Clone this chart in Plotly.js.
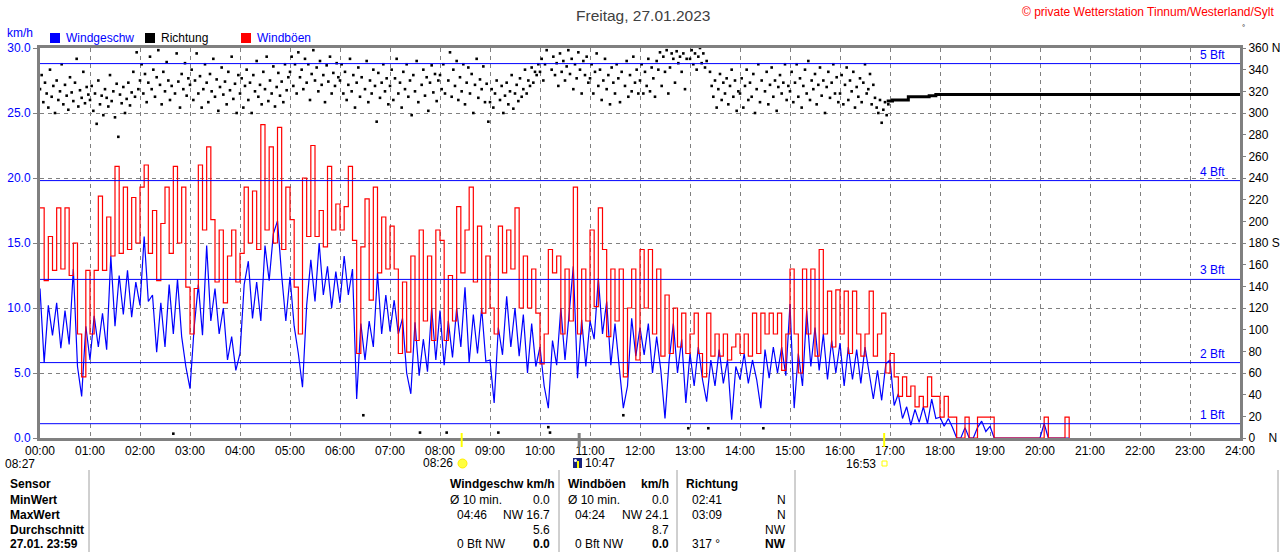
<!DOCTYPE html>
<html><head><meta charset="utf-8">
<script src="https://cdn.plot.ly/plotly-3.0.1.min.js"></script>
<style>html,body{margin:0;padding:0;background:#fff;overflow:hidden}#chart{width:1280px;height:552px}</style>
</head><body><div id="chart"></div>
<script>
// ---- data ----
const speedStepMin = 5;
const windSpeed = [
11.5,5.8,10.2,7.9,10.4,6.9,9.8,7.2,13.0,5.5,3.2,8.6,
6.0,9.4,7.0,9.6,6.8,14.0,8.6,12.5,9.5,12.9,9.3,12.0,
10.2,15.5,10.5,11.0,6.6,10.4,7.0,11.8,8.0,12.2,7.8,5.5,
3.8,8.5,11.8,7.9,14.8,9.0,11.5,8.0,10.0,6.0,7.8,5.2,
6.5,11.8,13.6,9.2,12.0,9.0,14.8,12.1,15.7,16.7,12.5,9.0,
12.4,8.6,6.5,3.9,10.2,13.7,10.5,15.0,11.0,13.2,10.0,12.8,
10.4,14.0,11.0,13.0,3.0,8.8,6.0,9.0,7.0,12.7,8.0,11.0,
8.2,10.6,8.0,9.2,5.0,3.4,8.9,4.8,7.6,5.1,10.0,6.0,
9.8,5.6,9.0,6.2,10.0,7.0,11.6,5.8,9.5,6.5,10.0,5.9,
6.0,2.7,8.5,6.4,10.9,7.0,10.0,6.3,9.5,5.0,8.8,5.5,
7.0,4.0,2.3,7.5,5.6,10.0,6.0,9.5,13.2,4.6,9.1,5.5,
9.0,7.6,12.3,8.0,10.5,5.6,8.8,5.5,2.3,4.0,9.2,6.3,
8.5,6.4,8.8,5.0,7.8,5.2,1.5,6.0,8.8,5.0,7.6,2.7,
6.5,4.0,7.0,4.5,2.8,6.0,4.0,6.8,4.2,6.0,1.4,5.5,
4.5,6.5,4.2,6.0,4.5,2.3,6.8,4.6,7.0,5.0,7.0,4.8,
10.3,2.3,6.5,4.0,9.8,5.5,8.5,5.2,8.0,4.5,7.5,5.0,
7.3,4.0,7.0,4.5,6.8,4.2,7.0,5.0,3.0,5.2,2.9,5.7,
6.0,2.5,3.4,1.5,2.4,1.0,2.2,1.2,2.4,1.1,3.0,1.5,
1.6,0.9,1.5,0.8,0,0,0.8,0,0,0.8,1.3,0.5,
0.9,0,0,0,0,0,0,0,0,0,0,0,
0,1.1,0,0,0,0,0,0
];
const windGust = [
17.7,12.1,15.5,12.9,17.7,13.0,17.7,12.5,15.0,8.0,4.7,12.9,
8.0,12.9,18.6,12.9,17.0,14.0,20.9,14.2,19.3,14.5,18.5,15.0,
19.3,21.0,14.2,17.5,12.1,16.5,19.3,14.2,20.9,15.0,19.3,11.6,
8.0,11.5,21.0,16.0,22.4,16.8,12.0,16.0,10.4,14.0,16.0,12.0,
14.2,19.3,15.0,19.0,14.5,24.1,16.0,22.4,15.0,23.9,14.5,19.3,
16.8,11.6,8.0,20.0,15.5,22.5,15.5,17.5,14.7,20.9,16.0,18.0,
16.0,17.8,20.9,15.2,6.5,14.7,18.4,10.6,19.3,12.7,17.0,13.0,
16.3,13.0,6.5,12.0,6.6,14.0,7.5,16.0,9.0,14.0,7.5,16.0,
15.2,7.5,12.5,9.0,17.8,12.7,16.0,19.3,12.0,16.3,9.6,14.0,
10.0,8.0,16.3,12.7,16.0,13.0,17.7,10.0,14.0,10.0,13.0,9.6,
5.7,8.0,14.5,12.7,14.0,8.0,13.0,9.0,19.3,8.0,13.0,9.0,
16.0,10.1,17.7,14.5,7.8,13.0,9.0,13.0,4.7,10.0,13.0,6.0,
14.5,10.0,14.5,8.0,13.0,6.3,11.0,6.5,10.0,7.0,9.6,6.5,
8.0,9.6,6.5,4.7,9.6,6.3,8.0,6.3,8.0,6.0,7.0,8.0,
6.5,8.0,6.3,9.6,6.5,9.6,8.0,9.6,8.0,9.6,5.2,8.0,
13.0,8.0,5.0,13.0,8.0,13.0,6.3,14.5,8.0,11.3,7.0,11.4,
8.0,11.3,6.5,11.3,8.0,6.3,8.0,11.3,6.3,8.0,9.6,5.0,
6.5,4.7,3.2,4.7,3.2,4.0,2.4,3.2,2.4,4.7,3.2,3.2,
1.6,3.2,1.6,1.6,0,0,1.6,0,0,1.6,1.6,1.6,
1.6,0,0,0,0,0,0,0,0,0,0,0,
0,1.6,0,0,0,0,1.6,0
];
const dirStepMin = 2;
const windDir = [
322,335,310,328,318,305,340,315,325,300,330,312,320,345,308,326,316,303,333,319,311,328,350,306,321,314,338,309,324,317,
312,325,302,318,290,330,308,316,298,322,314,306,335,311,320,296,327,278,317,309,324,300,313,328,307,319,338,315,356,322,
330,345,318,336,310,328,352,322,340,315,333,358,326,308,338,320,347,330,312,325,4,318,355,329,305,336,322,346,316,332,
326,340,312,330,355,318,334,305,322,345,328,310,336,320,350,315,331,302,324,342,317,329,308,338,321,352,313,327,300,335,
318,332,305,325,340,312,328,300,335,320,348,315,326,308,338,322,352,311,330,318,343,306,324,337,316,329,310,345,321,333,
338,352,325,345,318,356,333,340,322,350,328,345,312,336,358,330,342,320,348,326,335,310,344,329,352,318,337,325,346,333,
330,345,318,338,312,326,350,320,335,305,328,342,315,333,21,322,348,310,330,318,340,325,292,337,314,328,345,320,332,308,
325,340,312,332,350,318,328,305,338,322,345,315,330,298,335,320,348,310,5,326,340,316,333,302,328,344,319,336,311,330,
335,322,345,318,5,330,356,315,340,325,348,312,333,320,345,308,328,342,318,336,300,326,350,314,331,322,343,310,327,292,
310,322,305,318,330,5,312,325,300,316,328,308,320,335,304,318,326,311,332,315,322,340,318,330,325,342,328,338,335,345,
338,350,330,345,358,10,5,340,352,335,346,325,355,338,348,330,343,358,336,350,322,345,332,356,340,318,348,335,352,328,
332,345,318,338,355,325,340,312,330,350,322,335,308,342,328,318,345,332,310,338,21,325,348,315,335,320,352,328,340,318,
330,345,318,338,325,350,320,342,332,315,348,340,356,325,352,338,358,318,342,355,350,328,357,346,352,338,355,322,350,9,
350,358,345,355,340,352,360,346,355,342,348,9,338,325,315,330,305,322,336,312,328,318,332,308,325,340,315,330,302,320,
318,332,305,325,340,312,328,315,336,300,322,345,310,330,9,320,338,308,326,342,315,330,302,324,335,318,328,345,312,325,
320,338,310,328,345,315,332,305,325,340,318,348,312,330,322,336,308,326,342,316,330,300,324,338,314,328,345,318,333,310,
318,335,308,326,342,312,330,320,338,305,324,315,332,310,328,345,318,322,336,308,326,314,305,300,312,291,303,310,298,308
];
const dirLineTimes = ["16:56","17:03","17:22","17:47","17:55","24:00"];
const dirLineValues = [311,312,315,316,317,317];

const hourLabels = ["00:00","01:00","02:00","03:00","04:00","05:00","06:00","07:00","08:00","09:00","10:00","11:00","12:00",
  "13:00","14:00","15:00","16:00","17:00","18:00","19:00","20:00","21:00","22:00","23:00","24:00"];
const speedTicks = [0,5,10,15,20,25,30];
const dirTickVals = [0,20,40,60,80,100,120,140,160,180,200,220,240,260,280,300,320,340,360];
const dirTickText = ["0\u00a0\u00a0\u00a0\u00a0N","20","40","60","80","100","120","140","160","180 S","200","220","240","260","280","300","320","340","360 N"];
const bftLevels = [1.1,5.8,12.2,19.8,28.8];
const bftLabels = ["1 Bft","2 Bft","3 Bft","4 Bft","5 Bft"];
const legendNames = ["Windgeschw","Richtung","Windböen"];
const sunrise = "08:26", sunset = "16:53", moonEvent = "10:47", nextSunrise = "08:27";
const titleText = "Freitag, 27.01.2023";
const copyrightText = "\u00a9 private Wetterstation Tinnum/Westerland/Sylt";

const rowLabels = ["Sensor","MinWert","MaxWert","Durchschnitt","27.01. 23:59"];
const speedColLeft  = ["Windgeschw km/h","\u00d8 10 min.","04:46","","0 Bft NW"];
const speedColRight = ["","0.0","NW 16.7","5.6","0.0"];
const gustColLeft   = ["Windb\u00f6en","\u00d8 10 min.","04:24","","0 Bft NW"];
const gustColRight  = ["km/h","0.0","NW 24.1","8.7","0.0"];
const dirColLeft    = ["Richtung","02:41","03:09","","317 \u00b0"];
const dirColRight   = ["","N","N","NW","NW"];

// ---- helpers ----
const L=40,R=1240,T=48,B=438;
const px = X => (X-L)/(R-L);
const py = Y => (B-Y)/(B-T);
const hh = s => { const p=s.split(":"); return +p[0] + (+p[1])/60; };
const FONT = "Liberation Sans Narrow, Liberation Sans, Arial, sans-serif";
const FONTW = "Liberation Sans, Arial, sans-serif";

const tSpeed = windSpeed.map((_,i)=>i*speedStepMin/60);
const tGust = windGust.map((_,i)=>i*speedStepMin/60);
const tDir = windDir.map((_,i)=>i*dirStepMin/60);

const traces = [
  {x:tSpeed, y:windSpeed, type:'scatter', mode:'lines', line:{color:'#0000ff', width:1.2, shape:'linear'}, hoverinfo:'skip'},
  {x:tGust, y:windGust, type:'scatter', mode:'lines', line:{color:'#ff0000', width:1.2, shape:'hv'}, hoverinfo:'skip'},
  {x:tDir, y:windDir, yaxis:'y2', type:'scatter', mode:'markers', marker:{symbol:'square', size:2.6, color:'#000', line:{width:0}}, hoverinfo:'skip'},
  {x:dirLineTimes.map(hh), y:dirLineValues, yaxis:'y2', type:'scatter', mode:'lines', line:{color:'#000', width:3, shape:'hv'}, hoverinfo:'skip'}
];

const ann = [];
const shp = [];
function text(t, X, Y, anchor, opts={}) {
  ann.push({text:t, xref:'paper', yref:'paper', x:px(X), y:py(Y), xanchor:anchor, yanchor:'middle', showarrow:false,
    font:{family: opts.family||FONT, size: opts.size||12, color: opts.color||'#000', weight: opts.bold?'bold':'normal'}});
}
function rect(x0,y0,x1,y1,fill,lineColor,lw){
  shp.push({type:'rect', xref:'paper', yref:'paper', x0:px(x0), x1:px(x1), y0:py(y0), y1:py(y1),
    fillcolor:fill, line:{color:lineColor||fill, width:lw===undefined?0:lw}, layer:'above'});
}
function seg(x0,y0,x1,y1,color,w){
  shp.push({type:'line', xref:'paper', yref:'paper', x0:px(x0), x1:px(x1), y0:py(y0), y1:py(y1), line:{color:color,width:w}, layer:'above'});
}

// title & copyright
text(titleText, 643, 15, 'center', {size:15.5, color:'#404040', family:FONTW});
text(copyrightText, 1277, 12, 'right', {size:12, color:'#ff0000'});
text("\u00b0", 1243, 28, 'center', {size:8});
text("km/h", 5, 33, 'left', {size:12, color:'#0000ff'});

// legend
const legColors = ['#0000ff','#000000','#ff0000'];
const legX = [50,145,241];
const legTextColor = ['#0000ff','#000000','#0000ff'];
legendNames.forEach((n,i)=>{
  rect(legX[i], 33, legX[i]+10, 43, legColors[i], '#000', 0);
  text(n, legX[i]+14, 38, 'left', {size:12, color:legTextColor[i]});
});

// Beaufort lines
bftLevels.forEach((v,i)=>{
  shp.push({type:'line', xref:'paper', yref:'y', x0:0, x1:1, y0:v, y1:v, line:{color:'#0000ff', width:1}, layer:'above'});
  ann.push({text:bftLabels[i], xref:'paper', yref:'y', x:px(1227), y:v, xanchor:'right', yanchor:'bottom', yshift:0, showarrow:false,
    font:{family:FONT, size:12, color:'#0000ff'}});
});

// sun / moon markers below the axis
[[sunrise,'#ffff00',2],[sunset,'#ffff00',2],[moonEvent,'#808080',3]].forEach(e=>{
  shp.push({type:'line', xref:'x', yref:'paper', x0:hh(e[0]), x1:hh(e[0]), y0:py(433), y1:py(447), line:{color:e[1], width:e[2]}, layer:'above'});
});
text(nextSunrise, 37, 464, 'right');
shp.push({type:'path', xref:'paper', yref:'paper', path:`M ${px(40)} ${py(467)} A 1 1 0 0 1 ${px(48)} ${py(467)} Z`, fillcolor:'#ffff00', line:{color:'#ffe000', width:1}, layer:'above'});
text(sunrise, 455, 463, 'right');
shp.push({type:'circle', xref:'paper', yref:'paper', x0:px(458), x1:px(467), y0:py(459), y1:py(468), fillcolor:'#ffff40', line:{color:'#ffee00', width:1}, layer:'above'});
rect(573, 458, 582, 468, '#1a237e');
seg(578, 461, 578, 468, '#ffff00', 2);
shp.push({type:'circle', xref:'paper', yref:'paper', x0:px(574), x1:px(577), y0:py(459), y1:py(462), fillcolor:'#ffffff', line:{width:0}, layer:'above'});
text(moonEvent, 583, 463, 'left');
text(sunset, 878, 464, 'right');
rect(882, 461, 887, 466, 'rgba(0,0,0,0)', '#ffff00', 1);

// table
[89,559,677,795,1278].forEach(X=>seg(X,470,X,552,'#a0a0a0',1));
const rowY = [484,500,515,530,544];
rowLabels.forEach((t,i)=>text(t, 8, rowY[i], 'left', {bold:true}));
rowY.forEach((Y,i)=>{
  const hdr = i===0, last = i===4;
  if (speedColLeft[i]) text(speedColLeft[i], (i>=2?455:448), Y, 'left', {bold:hdr});
  if (speedColRight[i]) text(speedColRight[i], 552, Y, 'right', {bold:last});
  if (gustColLeft[i]) text(gustColLeft[i], (i>=2?573:566), Y, 'left', {bold:hdr});
  if (gustColRight[i]) text(gustColRight[i], 671, Y, 'right', {bold:hdr||last});
  if (dirColLeft[i]) text(dirColLeft[i], (hdr?684:690), Y, 'left', {bold:hdr});
  if (dirColRight[i]) text(dirColRight[i], 788, Y, 'right', {bold:last});
});

const layout = {
  width:1280, height:552, margin:{l:40, r:40, t:48, b:114, pad:0},
  paper_bgcolor:'#fff', plot_bgcolor:'#fff', showlegend:false,
  font:{family:FONT, size:12, color:'#000'},
  xaxis:{range:[0,24], tickmode:'array', tickvals:hourLabels.map(hh), ticktext:hourLabels,
    showgrid:true, gridcolor:'#808080', griddash:'4px,4px', gridwidth:1,
    showline:true, linecolor:'#808080', linewidth:3, mirror:true, ticks:'', zeroline:false,
    tickfont:{family:FONT, size:12, color:'#000'}, fixedrange:true},
  yaxis:{range:[0,30], tickmode:'array', tickvals:speedTicks, tickformat:'.1f',
    showgrid:true, gridcolor:'#808080', griddash:'4px,4px', gridwidth:1,
    showline:true, linecolor:'#808080', linewidth:3, mirror:true, ticks:'outside', ticklen:4, tickcolor:'#808080',
    zeroline:false, tickfont:{family:FONT, size:12, color:'#0000ff'}, fixedrange:true},
  yaxis2:{range:[0,360], overlaying:'y', side:'right', anchor:'x', tickmode:'array', tickvals:dirTickVals, ticktext:dirTickText,
    showgrid:false, showline:false, zeroline:false, ticks:'outside', ticklen:5, tickcolor:'#808080',
    tickfont:{family:FONT, size:12, color:'#000'}, fixedrange:true},
  annotations:ann, shapes:shp
};
Plotly.newPlot('chart', traces, layout, {staticPlot:true, displayModeBar:false});
</script>
</body></html>
